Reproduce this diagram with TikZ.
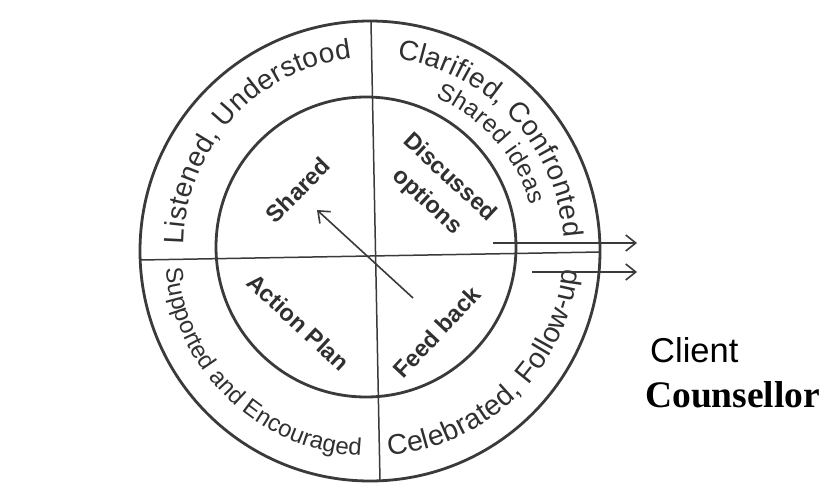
\documentclass[tikz,border=0pt]{standalone}
\usepackage{fontspec}
\newfontfamily\arialf{Liberation Sans}
\newfontfamily\timesf{Liberation Serif}
\usetikzlibrary{decorations.text,arrows.meta}
\definecolor{ink}{HTML}{3A3A3A}
\definecolor{txt}{HTML}{303030}
\begin{document}
\begin{tikzpicture}[x=1pt,y=1pt,
  ring/.style={draw=ink,line width=2.8pt},
  divider/.style={draw=ink,line width=1.5pt},
  pointer/.style={draw=ink,line width=1.6pt,-{Straight Barb[length=10pt,width=16pt]}},
  inner/.style={text=txt,inner sep=0pt,font=\arialf\bfseries\fontsize{23.5}{33}\selectfont},
  curved/.style={decorate,decoration={text along path,text align={fit to path},text color=txt,text={#1}}},
  side/.style={text=black,inner sep=0pt,anchor=base west}
]
\useasboundingbox (0,0) rectangle (824,-495);
\fill[white] (0,0) rectangle (824,-495);
% circles
\coordinate (co) at (370,-251);
\coordinate (ci) at (366,-247);
\draw[ring] (co) circle[radius=230];
\draw[ring] (ci) circle[radius=150];
% dividers
\coordinate (vtop) at (371,-22);
\coordinate (vbot) at (380,-481);
\coordinate (hleft) at (140,-260);
\coordinate (hright) at (600,-252);
\draw[divider] (vtop) -- (vbot);
\draw[divider] (hleft) -- (hright);
% curved texts in the outer ring
\coordinate (ca) at (373,-246);
\path[curved={|\arialf\fontsize{28}{28}\selectfont|Listened, Understood}]
  ([shift={(179.5:189)}]ca) arc[start angle=179.5,end angle=96.5,radius=189];
\path[curved={|\arialf\fontsize{28}{28}\selectfont|Clarified, Confronted}]
  ([shift={(82:194)}]co) arc[start angle=82,end angle=4,radius=194];
\path[curved={|\arialf\fontsize{24.5}{24.5}\selectfont|Shared ideas}]
  ([shift={(67:167)}]co) arc[start angle=67,end angle=16,radius=167];
\path[curved={|\arialf\fontsize{24}{24}\selectfont|Supported and Encouraged}]
  ([shift={(185:205)}]co) arc[start angle=185,end angle=267.5,radius=205];
\coordinate (ce) at (372,-249);
\path[curved={|\arialf\fontsize{28.5}{28.5}\selectfont|Celebrated, Follow-up}]
  ([shift={(274.5:207)}]ce) arc[start angle=274.5,end angle=354,radius=207];
% inner quadrant labels
\node[inner,rotate=45] (shared) at (298,-190) {Shared};
\node[inner,rotate=-43,align=center] (disc) at (438,-190) {Discussed\\options};
\node[inner,rotate=-43] (action) at (298.5,-322) {Action Plan};
\node[inner,rotate=47] (feed) at (437,-332) {Feed back};
% arrows
\coordinate (dtail) at (413,-298);
\coordinate (dtip) at (317,-210);
\draw[pointer] (dtail) -- (dtip);
\coordinate (a1s) at (493,-243);
\coordinate (a1e) at (637,-243);
\coordinate (a2s) at (532,-272);
\coordinate (a2e) at (637,-272);
\draw[pointer] (a1s) -- (a1e);
\draw[pointer] (a2s) -- (a2e);
% legend
\node[side,font=\arialf\fontsize{34.5}{34.5}\selectfont] (client) at (650,-362) {Client};
\node[side,font=\timesf\bfseries\fontsize{37.5}{37.5}\selectfont] (couns) at (645,-407) {Counsellor};
\end{tikzpicture}
\end{document}
